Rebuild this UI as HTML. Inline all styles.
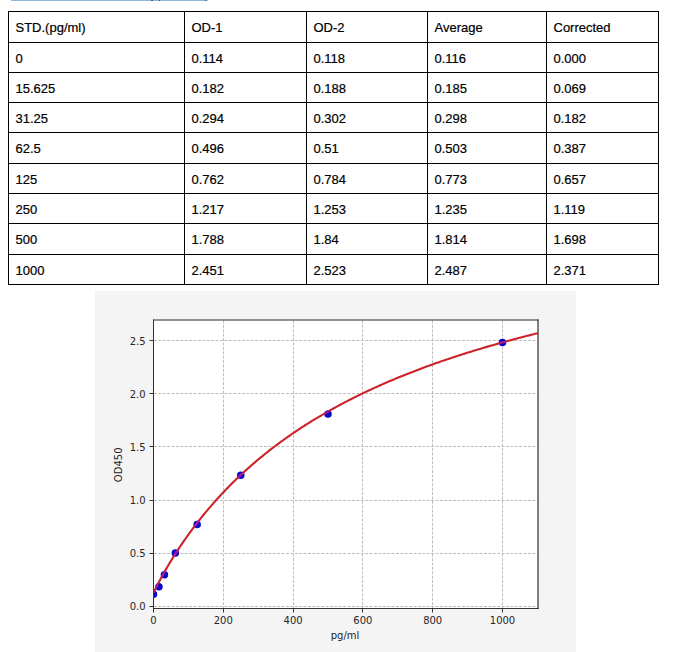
<!DOCTYPE html>
<html><head><meta charset="utf-8"><title>Standard curve</title>
<style>
html,body{margin:0;padding:0;background:#fff;}
body{width:679px;height:652px;position:relative;overflow:hidden;}
.sel{position:absolute;left:11px;top:0;width:197px;height:1px;background:#8cb6da;}
.dk{position:absolute;top:0;height:1px;}
table{position:absolute;left:8px;top:11px;border-collapse:separate;border-spacing:0;table-layout:fixed;width:651px;
border-left:1px solid #000;border-top:1px solid #000;font-family:"Liberation Sans",Arial,sans-serif;font-size:13px;color:#000;}
td{box-sizing:border-box;border-right:1px solid #000;border-bottom:1px solid #000;padding:8px 0 0 6.5px;vertical-align:top;line-height:15px;white-space:nowrap;overflow:hidden;-webkit-text-stroke:0.2px #000;}
svg{position:absolute;left:0;top:0;}
svg text{font-family:"DejaVu Sans",sans-serif;font-size:10px;fill:#262626;}
.g{stroke:#bdbdbd;stroke-width:1;stroke-dasharray:2.9 1.5;}
.s{stroke:#333;stroke-width:1;}
.s2{stroke:#262626;stroke-width:1.15;}
.t{stroke:#333;stroke-width:1;}
</style></head><body>
<div class="sel"></div><div class="dk" style="left:151px;width:2px;background:#5a5a6a"></div><div class="dk" style="left:159px;width:1px;background:#4a3a5a"></div><div class="dk" style="left:205px;width:1px;background:#46509a"></div>
<table><colgroup><col style="width:176px"><col style="width:122px"><col style="width:121px"><col style="width:119px"><col style="width:112px"></colgroup><tr style="height:31px"><td>STD.(pg/ml)</td><td>OD-1</td><td>OD-2</td><td>Average</td><td>Corrected</td></tr><tr style="height:30px"><td>0</td><td>0.114</td><td>0.118</td><td>0.116</td><td>0.000</td></tr><tr style="height:30px"><td>15.625</td><td>0.182</td><td>0.188</td><td>0.185</td><td>0.069</td></tr><tr style="height:30px"><td>31.25</td><td>0.294</td><td>0.302</td><td>0.298</td><td>0.182</td></tr><tr style="height:31px"><td>62.5</td><td>0.496</td><td>0.51</td><td>0.503</td><td>0.387</td></tr><tr style="height:30px"><td>125</td><td>0.762</td><td>0.784</td><td>0.773</td><td>0.657</td></tr><tr style="height:30px"><td>250</td><td>1.217</td><td>1.253</td><td>1.235</td><td>1.119</td></tr><tr style="height:31px"><td>500</td><td>1.788</td><td>1.84</td><td>1.814</td><td>1.698</td></tr><tr style="height:30px"><td>1000</td><td>2.451</td><td>2.523</td><td>2.487</td><td>2.371</td></tr></table>
<svg width="679" height="652" viewBox="0 0 679 652">
<defs><clipPath id="mk"><circle cx="153.50" cy="594.18" r="3.55"/><circle cx="158.95" cy="586.86" r="3.55"/><circle cx="164.41" cy="574.86" r="3.55"/><circle cx="175.31" cy="553.09" r="3.55"/><circle cx="197.12" cy="524.42" r="3.55"/><circle cx="240.75" cy="475.37" r="3.55"/><circle cx="328.00" cy="413.89" r="3.55"/><circle cx="502.50" cy="342.43" r="3.55"/></clipPath><clipPath id="ax"><rect x="153.5" y="320" width="384.5" height="288.5"/></clipPath></defs>
<rect x="95" y="291" width="481" height="361" fill="#f4f4f4"/>
<rect x="153" y="319.5" width="385" height="289" fill="#ffffff"/>
<line x1="223.5" y1="320.5" x2="223.5" y2="608" class="g"/>
<line x1="293.5" y1="320.5" x2="293.5" y2="608" class="g"/>
<line x1="362.5" y1="320.5" x2="362.5" y2="608" class="g"/>
<line x1="432.5" y1="320.5" x2="432.5" y2="608" class="g"/>
<line x1="502.5" y1="320.5" x2="502.5" y2="608" class="g"/>
<line x1="154" y1="606.5" x2="537.5" y2="606.5" class="g"/>
<line x1="154" y1="553.5" x2="537.5" y2="553.5" class="g"/>
<line x1="154" y1="500.5" x2="537.5" y2="500.5" class="g"/>
<line x1="154" y1="446.5" x2="537.5" y2="446.5" class="g"/>
<line x1="154" y1="393.5" x2="537.5" y2="393.5" class="g"/>
<line x1="154" y1="340.5" x2="537.5" y2="340.5" class="g"/>
<g clip-path="url(#ax)">
<circle cx="153.50" cy="594.18" r="3.75" fill="#0606cc"/>
<circle cx="158.95" cy="586.86" r="3.75" fill="#0606cc"/>
<circle cx="164.41" cy="574.86" r="3.75" fill="#0606cc"/>
<circle cx="175.31" cy="553.09" r="3.75" fill="#0606cc"/>
<circle cx="197.12" cy="524.42" r="3.75" fill="#0606cc"/>
<circle cx="240.75" cy="475.37" r="3.75" fill="#0606cc"/>
<circle cx="328.00" cy="413.89" r="3.75" fill="#0606cc"/>
<circle cx="502.50" cy="342.43" r="3.75" fill="#0606cc"/>
<path d="M153.50,593.02 L154.79,590.23 L156.07,587.61 L157.36,585.07 L158.64,582.59 L159.93,580.16 L161.21,577.77 L162.50,575.43 L163.78,573.13 L165.07,570.86 L166.35,568.63 L167.64,566.43 L168.92,564.26 L170.21,562.12 L171.49,560.01 L172.78,557.93 L174.06,555.87 L175.35,553.84 L176.63,551.84 L177.92,549.86 L179.20,547.91 L180.49,545.98 L181.77,544.07 L183.06,542.19 L184.34,540.33 L185.63,538.49 L186.91,536.67 L188.20,534.87 L189.48,533.09 L190.77,531.33 L192.05,529.59 L193.34,527.87 L194.62,526.17 L195.91,524.48 L197.19,522.81 L198.48,521.17 L199.76,519.53 L201.05,517.92 L202.33,516.32 L203.62,514.74 L204.90,513.17 L206.19,511.62 L207.47,510.09 L208.76,508.57 L210.05,507.06 L211.33,505.57 L212.62,504.10 L213.90,502.64 L215.19,501.19 L216.47,499.76 L217.76,498.34 L219.04,496.93 L220.33,495.54 L221.61,494.16 L222.90,492.79 L224.18,491.43 L225.47,490.09 L226.75,488.76 L228.04,487.44 L229.32,486.13 L230.61,484.84 L231.89,483.56 L233.18,482.28 L234.46,481.02 L235.75,479.77 L237.03,478.53 L238.32,477.30 L239.60,476.09 L240.89,474.88 L242.17,473.68 L243.46,472.50 L244.74,471.32 L246.03,470.15 L247.31,468.99 L248.60,467.85 L249.88,466.71 L251.17,465.58 L252.45,464.46 L253.74,463.35 L255.02,462.25 L256.31,461.15 L257.59,460.07 L258.88,458.99 L260.16,457.93 L261.45,456.87 L262.73,455.82 L264.02,454.78 L265.30,453.74 L266.59,452.72 L267.88,451.70 L269.16,450.69 L270.45,449.69 L271.73,448.69 L273.02,447.71 L274.30,446.73 L275.59,445.76 L276.87,444.79 L278.16,443.83 L279.44,442.88 L280.73,441.94 L282.01,441.00 L283.30,440.07 L284.58,439.15 L285.87,438.24 L287.15,437.33 L288.44,436.42 L289.72,435.53 L291.01,434.64 L292.29,433.75 L293.58,432.88 L294.86,432.01 L296.15,431.14 L297.43,430.28 L298.72,429.43 L300.00,428.58 L301.29,427.74 L302.57,426.91 L303.86,426.08 L305.14,425.25 L306.43,424.44 L307.71,423.62 L309.00,422.82 L310.28,422.01 L311.57,421.22 L312.85,420.43 L314.14,419.64 L315.42,418.86 L316.71,418.09 L317.99,417.32 L319.28,416.55 L320.56,415.79 L321.85,415.04 L323.14,414.29 L324.42,413.54 L325.71,412.80 L326.99,412.07 L328.28,411.34 L329.56,410.61 L330.85,409.89 L332.13,409.17 L333.42,408.46 L334.70,407.75 L335.99,407.05 L337.27,406.35 L338.56,405.66 L339.84,404.97 L341.13,404.28 L342.41,403.60 L343.70,402.92 L344.98,402.25 L346.27,401.58 L347.55,400.92 L348.84,400.26 L350.12,399.60 L351.41,398.95 L352.69,398.30 L353.98,397.65 L355.26,397.01 L356.55,396.37 L357.83,395.74 L359.12,395.11 L360.40,394.48 L361.69,393.86 L362.97,393.24 L364.26,392.63 L365.54,392.02 L366.83,391.41 L368.11,390.80 L369.40,390.20 L370.68,389.61 L371.97,389.01 L373.25,388.42 L374.54,387.83 L375.82,387.25 L377.11,386.67 L378.39,386.09 L379.68,385.52 L380.97,384.95 L382.25,384.38 L383.54,383.82 L384.82,383.25 L386.11,382.70 L387.39,382.14 L388.68,381.59 L389.96,381.04 L391.25,380.49 L392.53,379.95 L393.82,379.41 L395.10,378.88 L396.39,378.34 L397.67,377.81 L398.96,377.28 L400.24,376.76 L401.53,376.23 L402.81,375.71 L404.10,375.20 L405.38,374.68 L406.67,374.17 L407.95,373.66 L409.24,373.16 L410.52,372.65 L411.81,372.15 L413.09,371.65 L414.38,371.16 L415.66,370.67 L416.95,370.17 L418.23,369.69 L419.52,369.20 L420.80,368.72 L422.09,368.24 L423.37,367.76 L424.66,367.28 L425.94,366.81 L427.23,366.34 L428.51,365.87 L429.80,365.41 L431.08,364.94 L432.37,364.48 L433.65,364.02 L434.94,363.57 L436.23,363.11 L437.51,362.66 L438.80,362.21 L440.08,361.76 L441.37,361.32 L442.65,360.87 L443.94,360.43 L445.22,359.99 L446.51,359.56 L447.79,359.12 L449.08,358.69 L450.36,358.26 L451.65,357.83 L452.93,357.41 L454.22,356.98 L455.50,356.56 L456.79,356.14 L458.07,355.72 L459.36,355.31 L460.64,354.89 L461.93,354.48 L463.21,354.07 L464.50,353.66 L465.78,353.25 L467.07,352.85 L468.35,352.45 L469.64,352.05 L470.92,351.65 L472.21,351.25 L473.49,350.86 L474.78,350.46 L476.06,350.07 L477.35,349.68 L478.63,349.29 L479.92,348.91 L481.20,348.52 L482.49,348.14 L483.77,347.76 L485.06,347.38 L486.34,347.00 L487.63,346.63 L488.91,346.25 L490.20,345.88 L491.48,345.51 L492.77,345.14 L494.06,344.77 L495.34,344.41 L496.63,344.04 L497.91,343.68 L499.20,343.32 L500.48,342.96 L501.77,342.60 L503.05,342.25 L504.34,341.89 L505.62,341.54 L506.91,341.19 L508.19,340.84 L509.48,340.49 L510.76,340.14 L512.05,339.80 L513.33,339.45 L514.62,339.11 L515.90,338.77 L517.19,338.43 L518.47,338.09 L519.76,337.76 L521.04,337.42 L522.33,337.09 L523.61,336.75 L524.90,336.42 L526.18,336.09 L527.47,335.77 L528.75,335.44 L530.04,335.11 L531.32,334.79 L532.61,334.47 L533.89,334.15 L535.18,333.83 L536.46,333.51 L537.75,333.19" fill="none" stroke="#cc2229" stroke-width="2.1" stroke-linejoin="round"/>
<path d="M153.50,593.02 L154.79,590.23 L156.07,587.61 L157.36,585.07 L158.64,582.59 L159.93,580.16 L161.21,577.77 L162.50,575.43 L163.78,573.13 L165.07,570.86 L166.35,568.63 L167.64,566.43 L168.92,564.26 L170.21,562.12 L171.49,560.01 L172.78,557.93 L174.06,555.87 L175.35,553.84 L176.63,551.84 L177.92,549.86 L179.20,547.91 L180.49,545.98 L181.77,544.07 L183.06,542.19 L184.34,540.33 L185.63,538.49 L186.91,536.67 L188.20,534.87 L189.48,533.09 L190.77,531.33 L192.05,529.59 L193.34,527.87 L194.62,526.17 L195.91,524.48 L197.19,522.81 L198.48,521.17 L199.76,519.53 L201.05,517.92 L202.33,516.32 L203.62,514.74 L204.90,513.17 L206.19,511.62 L207.47,510.09 L208.76,508.57 L210.05,507.06 L211.33,505.57 L212.62,504.10 L213.90,502.64 L215.19,501.19 L216.47,499.76 L217.76,498.34 L219.04,496.93 L220.33,495.54 L221.61,494.16 L222.90,492.79 L224.18,491.43 L225.47,490.09 L226.75,488.76 L228.04,487.44 L229.32,486.13 L230.61,484.84 L231.89,483.56 L233.18,482.28 L234.46,481.02 L235.75,479.77 L237.03,478.53 L238.32,477.30 L239.60,476.09 L240.89,474.88 L242.17,473.68 L243.46,472.50 L244.74,471.32 L246.03,470.15 L247.31,468.99 L248.60,467.85 L249.88,466.71 L251.17,465.58 L252.45,464.46 L253.74,463.35 L255.02,462.25 L256.31,461.15 L257.59,460.07 L258.88,458.99 L260.16,457.93 L261.45,456.87 L262.73,455.82 L264.02,454.78 L265.30,453.74 L266.59,452.72 L267.88,451.70 L269.16,450.69 L270.45,449.69 L271.73,448.69 L273.02,447.71 L274.30,446.73 L275.59,445.76 L276.87,444.79 L278.16,443.83 L279.44,442.88 L280.73,441.94 L282.01,441.00 L283.30,440.07 L284.58,439.15 L285.87,438.24 L287.15,437.33 L288.44,436.42 L289.72,435.53 L291.01,434.64 L292.29,433.75 L293.58,432.88 L294.86,432.01 L296.15,431.14 L297.43,430.28 L298.72,429.43 L300.00,428.58 L301.29,427.74 L302.57,426.91 L303.86,426.08 L305.14,425.25 L306.43,424.44 L307.71,423.62 L309.00,422.82 L310.28,422.01 L311.57,421.22 L312.85,420.43 L314.14,419.64 L315.42,418.86 L316.71,418.09 L317.99,417.32 L319.28,416.55 L320.56,415.79 L321.85,415.04 L323.14,414.29 L324.42,413.54 L325.71,412.80 L326.99,412.07 L328.28,411.34 L329.56,410.61 L330.85,409.89 L332.13,409.17 L333.42,408.46 L334.70,407.75 L335.99,407.05 L337.27,406.35 L338.56,405.66 L339.84,404.97 L341.13,404.28 L342.41,403.60 L343.70,402.92 L344.98,402.25 L346.27,401.58 L347.55,400.92 L348.84,400.26 L350.12,399.60 L351.41,398.95 L352.69,398.30 L353.98,397.65 L355.26,397.01 L356.55,396.37 L357.83,395.74 L359.12,395.11 L360.40,394.48 L361.69,393.86 L362.97,393.24 L364.26,392.63 L365.54,392.02 L366.83,391.41 L368.11,390.80 L369.40,390.20 L370.68,389.61 L371.97,389.01 L373.25,388.42 L374.54,387.83 L375.82,387.25 L377.11,386.67 L378.39,386.09 L379.68,385.52 L380.97,384.95 L382.25,384.38 L383.54,383.82 L384.82,383.25 L386.11,382.70 L387.39,382.14 L388.68,381.59 L389.96,381.04 L391.25,380.49 L392.53,379.95 L393.82,379.41 L395.10,378.88 L396.39,378.34 L397.67,377.81 L398.96,377.28 L400.24,376.76 L401.53,376.23 L402.81,375.71 L404.10,375.20 L405.38,374.68 L406.67,374.17 L407.95,373.66 L409.24,373.16 L410.52,372.65 L411.81,372.15 L413.09,371.65 L414.38,371.16 L415.66,370.67 L416.95,370.17 L418.23,369.69 L419.52,369.20 L420.80,368.72 L422.09,368.24 L423.37,367.76 L424.66,367.28 L425.94,366.81 L427.23,366.34 L428.51,365.87 L429.80,365.41 L431.08,364.94 L432.37,364.48 L433.65,364.02 L434.94,363.57 L436.23,363.11 L437.51,362.66 L438.80,362.21 L440.08,361.76 L441.37,361.32 L442.65,360.87 L443.94,360.43 L445.22,359.99 L446.51,359.56 L447.79,359.12 L449.08,358.69 L450.36,358.26 L451.65,357.83 L452.93,357.41 L454.22,356.98 L455.50,356.56 L456.79,356.14 L458.07,355.72 L459.36,355.31 L460.64,354.89 L461.93,354.48 L463.21,354.07 L464.50,353.66 L465.78,353.25 L467.07,352.85 L468.35,352.45 L469.64,352.05 L470.92,351.65 L472.21,351.25 L473.49,350.86 L474.78,350.46 L476.06,350.07 L477.35,349.68 L478.63,349.29 L479.92,348.91 L481.20,348.52 L482.49,348.14 L483.77,347.76 L485.06,347.38 L486.34,347.00 L487.63,346.63 L488.91,346.25 L490.20,345.88 L491.48,345.51 L492.77,345.14 L494.06,344.77 L495.34,344.41 L496.63,344.04 L497.91,343.68 L499.20,343.32 L500.48,342.96 L501.77,342.60 L503.05,342.25 L504.34,341.89 L505.62,341.54 L506.91,341.19 L508.19,340.84 L509.48,340.49 L510.76,340.14 L512.05,339.80 L513.33,339.45 L514.62,339.11 L515.90,338.77 L517.19,338.43 L518.47,338.09 L519.76,337.76 L521.04,337.42 L522.33,337.09 L523.61,336.75 L524.90,336.42 L526.18,336.09 L527.47,335.77 L528.75,335.44 L530.04,335.11 L531.32,334.79 L532.61,334.47 L533.89,334.15 L535.18,333.83 L536.46,333.51 L537.75,333.19" fill="none" stroke="#9a1aa0" stroke-width="2.1" clip-path="url(#mk)"/>
</g>
<line x1="153.5" y1="319.5" x2="153.5" y2="609" class="s"/>
<line x1="153" y1="608.5" x2="538.6" y2="608.5" class="s"/>
<line x1="153" y1="320" x2="538.6" y2="320" class="s2"/>
<line x1="538" y1="319.4" x2="538" y2="609" class="s2"/>
<line x1="153.5" y1="609" x2="153.5" y2="612.5" class="t"/>
<text x="153.50" y="624" text-anchor="middle">0</text>
<line x1="223.5" y1="609" x2="223.5" y2="612.5" class="t"/>
<text x="223.30" y="624" text-anchor="middle">200</text>
<line x1="293.5" y1="609" x2="293.5" y2="612.5" class="t"/>
<text x="293.10" y="624" text-anchor="middle">400</text>
<line x1="362.5" y1="609" x2="362.5" y2="612.5" class="t"/>
<text x="362.90" y="624" text-anchor="middle">600</text>
<line x1="432.5" y1="609" x2="432.5" y2="612.5" class="t"/>
<text x="432.70" y="624" text-anchor="middle">800</text>
<line x1="502.5" y1="609" x2="502.5" y2="612.5" class="t"/>
<text x="502.50" y="624" text-anchor="middle">1000</text>
<line x1="149.5" y1="606.5" x2="153" y2="606.5" class="t"/>
<text x="145.6" y="610.10" text-anchor="end">0.0</text>
<line x1="149.5" y1="553.5" x2="153" y2="553.5" class="t"/>
<text x="145.6" y="557.01" text-anchor="end">0.5</text>
<line x1="149.5" y1="500.5" x2="153" y2="500.5" class="t"/>
<text x="145.6" y="503.92" text-anchor="end">1.0</text>
<line x1="149.5" y1="446.5" x2="153" y2="446.5" class="t"/>
<text x="145.6" y="450.83" text-anchor="end">1.5</text>
<line x1="149.5" y1="393.5" x2="153" y2="393.5" class="t"/>
<text x="145.6" y="397.74" text-anchor="end">2.0</text>
<line x1="149.5" y1="340.5" x2="153" y2="340.5" class="t"/>
<text x="145.6" y="344.65" text-anchor="end">2.5</text>
<text x="345" y="638.8" text-anchor="middle">pg/ml</text>
<text transform="translate(122.3,464.8) rotate(-90)" text-anchor="middle">OD450</text>
</svg>
</body></html>
